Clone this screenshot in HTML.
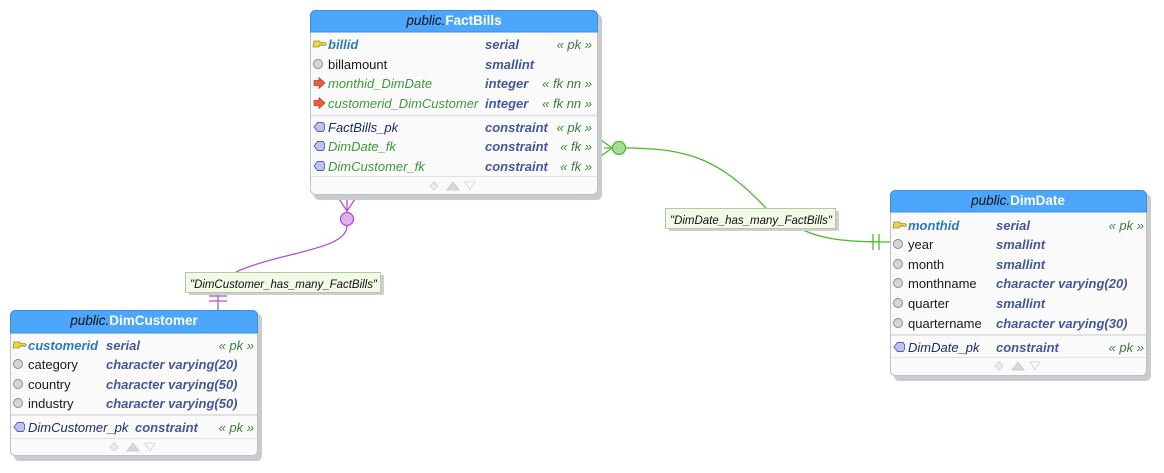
<!DOCTYPE html>
<html><head><meta charset="utf-8"><style>
html,body{margin:0;padding:0;background:#fff;}
svg{display:block;}
text{font-family:"Liberation Sans","DejaVu Sans",sans-serif;font-size:13px;}
.h{font-size:13.5px;}
.pk{fill:#2e7ab8;font-weight:bold;font-style:italic;}
.n{fill:#1a1a1a;}
.fk{fill:#3d9a3d;font-style:italic;}
.ty{fill:#44589a;font-weight:bold;font-style:italic;}
.tg{fill:#3b7d3b;font-style:italic;}
.cpk{fill:#1f2b6b;font-style:italic;}
.lbl{font-size:12px;font-style:italic;fill:#111;}
</style></head><body>
<svg width="1164" height="473" viewBox="0 0 1164 473" xmlns="http://www.w3.org/2000/svg">
<defs>
<g id="key"><path d="M0,-3 h6 v1.5 h5 l1.5,1.5 l-1.5,1.5 h-1 l-1,-1 l-1,1 l-1,-1 l-1,1 h-1 v1.5 h-6 z" fill="#e8d84a" stroke="#a09020" stroke-width="0.8"/></g>
<g id="col"><circle cx="5" cy="0" r="4.5" fill="#d6d6d6" stroke="#888" stroke-width="0.9"/></g>
<g id="arr"><path d="M0,-2.5 h5 v-3 l6,5.5 l-6,5.5 v-3 h-5 z" fill="#e6603a" stroke="#b0401e" stroke-width="0.7"/></g>
<g id="con"><path d="M1,0 l3.5,-4.5 h5.5 l1.5,2 v5 l-1.5,2 h-5.5 z" fill="#bcc2f0" stroke="#5860b0" stroke-width="0.9"/></g>
<g id="foot"><path d="M-21,0 l4,-4 l4,4 l-4,4 z" fill="#ececec" stroke="#ccc" stroke-width="0.8"/><path d="M-4,4 l6,-8 l6,8 z" fill="#d9d9d9" stroke="#c4c4c4" stroke-width="0.8"/><path d="M14,-4 h10 l-5,8 z" fill="none" stroke="#d4d4d4" stroke-width="0.8"/></g>
</defs>

<g fill="none" stroke="#4cb82f" stroke-width="1.3">
<path d="M597,137 L612,148 M597,159 L612,148 M604,148 L613,148"/>
<path d="M625,148 C690,148 720,160 766,208"/>
<path d="M803,230 C820,238 840,242 890,242"/>
<path d="M873,234 V250 M879,234 V250"/>
</g>
<circle cx="619" cy="148" r="6.5" fill="#a9dc98" stroke="#4cb82f" stroke-width="1.3"/>

<g fill="none" stroke="#b050d8" stroke-width="1.3">
<path d="M337,196 L347,211 M357,196 L347,211 M347,196 V212"/>
<path d="M347,226 C347,250 280,252 236,272"/>
<path d="M218,292 V310 M209,296 H227 M209,301 H227"/>
</g>
<circle cx="347" cy="219" r="6.5" fill="#dcb2ea" stroke="#b050d8" stroke-width="1.3"/>

<rect x="189" y="275" width="195" height="20" fill="#cfcfcf"/>
<rect x="185.5" y="272.5" width="195" height="20" fill="#f0fae6" stroke="#b5c8a8"/>
<text x="190" y="288" class="lbl" textLength="187" lengthAdjust="spacingAndGlyphs">"DimCustomer_has_many_FactBills"</text>
<rect x="669" y="211" width="170" height="20" fill="#cfcfcf"/>
<rect x="665.5" y="208.5" width="170" height="20" fill="#f0fae6" stroke="#b5c8a8"/>
<text x="670" y="224" class="lbl" textLength="162" lengthAdjust="spacingAndGlyphs">"DimDate_has_many_FactBills"</text>

<rect x="314" y="14" width="288" height="186" rx="5" fill="#cbcbcb"/>
<rect x="310.5" y="10.5" width="287" height="184" rx="5" fill="#fafafa" stroke="#b8c4d0"/>
<path d="M310.5,32 V15.5 a5,5 0 0 1 5,-5 H592.5 a5,5 0 0 1 5,5 V32 Z" fill="#4ca6fb" stroke="#3a8ee0"/>
<text x="454" y="25" text-anchor="middle" class="h"><tspan font-style="italic" fill="#111">public.</tspan><tspan fill="#fff" font-weight="bold">FactBills</tspan></text>
<use href="#key" x="314" y="44"/><text x="328" y="49" class="pk">billid</text><text x="485" y="49" class="ty">serial</text><text x="592" y="49" text-anchor="end" class="tg">« pk »</text>
<use href="#col" x="313" y="64"/><text x="328" y="69" class="n">billamount</text><text x="485" y="69" class="ty">smallint</text>
<use href="#arr" x="314" y="83"/><text x="328" y="88" class="fk">monthid_DimDate</text><text x="485" y="88" class="ty">integer</text><text x="592" y="88" text-anchor="end" class="tg">« fk nn »</text>
<use href="#arr" x="314" y="103"/><text x="328" y="108" class="fk">customerid_DimCustomer</text><text x="485" y="108" class="ty">integer</text><text x="592" y="108" text-anchor="end" class="tg">« fk nn »</text>
<line x1="311" y1="115.5" x2="597" y2="115.5" stroke="#e2e2e2" stroke-width="2"/>
<use href="#con" x="313" y="127"/><text x="328" y="132" class="cpk">FactBills_pk</text><text x="485" y="132" class="ty">constraint</text><text x="592" y="132" text-anchor="end" class="tg">« pk »</text>
<use href="#con" x="313" y="146"/><text x="328" y="151" class="fk">DimDate_fk</text><text x="485" y="151" class="ty">constraint</text><text x="592" y="151" text-anchor="end" class="tg">« fk »</text>
<use href="#con" x="313" y="166"/><text x="328" y="171" class="fk">DimCustomer_fk</text><text x="485" y="171" class="ty">constraint</text><text x="592" y="171" text-anchor="end" class="tg">« fk »</text>
<line x1="311" y1="176.5" x2="597" y2="176.5" stroke="#e2e2e2"/>
<use href="#foot" x="451" y="186"/>

<rect x="14" y="314" width="248" height="147" rx="5" fill="#cbcbcb"/>
<rect x="10.5" y="310.5" width="247" height="145" rx="5" fill="#fafafa" stroke="#b8c4d0"/>
<path d="M10.5,333 V315.5 a5,5 0 0 1 5,-5 H252.5 a5,5 0 0 1 5,5 V333 Z" fill="#4ca6fb" stroke="#3a8ee0"/>
<text x="134" y="325" text-anchor="middle" class="h"><tspan font-style="italic" fill="#111">public.</tspan><tspan fill="#fff" font-weight="bold">DimCustomer</tspan></text>
<use href="#key" x="14" y="345"/><text x="28" y="350" class="pk">customerid</text><text x="106" y="350" class="ty">serial</text><text x="254" y="350" text-anchor="end" class="tg">« pk »</text>
<use href="#col" x="13" y="364"/><text x="28" y="369" class="n">category</text><text x="106" y="369" class="ty">character varying(20)</text>
<use href="#col" x="13" y="384"/><text x="28" y="389" class="n">country</text><text x="106" y="389" class="ty">character varying(50)</text>
<use href="#col" x="13" y="403"/><text x="28" y="408" class="n">industry</text><text x="106" y="408" class="ty">character varying(50)</text>
<line x1="11" y1="415" x2="257" y2="415" stroke="#e2e2e2" stroke-width="2"/>
<use href="#con" x="13" y="427"/><text x="28" y="432" class="cpk">DimCustomer_pk</text><text x="135" y="432" class="ty">constraint</text><text x="254" y="432" text-anchor="end" class="tg">« pk »</text>
<line x1="11" y1="438.5" x2="257" y2="438.5" stroke="#e2e2e2"/>
<use href="#foot" x="131" y="447"/>

<rect x="894" y="194" width="257" height="187" rx="5" fill="#cbcbcb"/>
<rect x="890.5" y="190.5" width="256" height="185" rx="5" fill="#fafafa" stroke="#b8c4d0"/>
<path d="M890.5,212 V195.5 a5,5 0 0 1 5,-5 H1141.5 a5,5 0 0 1 5,5 V212 Z" fill="#4ca6fb" stroke="#3a8ee0"/>
<text x="1018" y="205" text-anchor="middle" class="h"><tspan font-style="italic" fill="#111">public.</tspan><tspan fill="#fff" font-weight="bold">DimDate</tspan></text>
<use href="#key" x="894" y="225"/><text x="908" y="230" class="pk">monthid</text><text x="996" y="230" class="ty">serial</text><text x="1144" y="230" text-anchor="end" class="tg">« pk »</text>
<use href="#col" x="893" y="244"/><text x="908" y="249" class="n">year</text><text x="996" y="249" class="ty">smallint</text>
<use href="#col" x="893" y="264"/><text x="908" y="269" class="n">month</text><text x="996" y="269" class="ty">smallint</text>
<use href="#col" x="893" y="283"/><text x="908" y="288" class="n">monthname</text><text x="996" y="288" class="ty">character varying(20)</text>
<use href="#col" x="893" y="303"/><text x="908" y="308" class="n">quarter</text><text x="996" y="308" class="ty">smallint</text>
<use href="#col" x="893" y="323"/><text x="908" y="328" class="n">quartername</text><text x="996" y="328" class="ty">character varying(30)</text>
<line x1="891" y1="335" x2="1146" y2="335" stroke="#e2e2e2" stroke-width="2"/>
<use href="#con" x="893" y="347"/><text x="908" y="352" class="cpk">DimDate_pk</text><text x="996" y="352" class="ty">constraint</text><text x="1144" y="352" text-anchor="end" class="tg">« pk »</text>
<line x1="891" y1="357.5" x2="1146" y2="357.5" stroke="#e2e2e2"/>
<use href="#foot" x="1016" y="366"/>
</svg>
</body></html>
